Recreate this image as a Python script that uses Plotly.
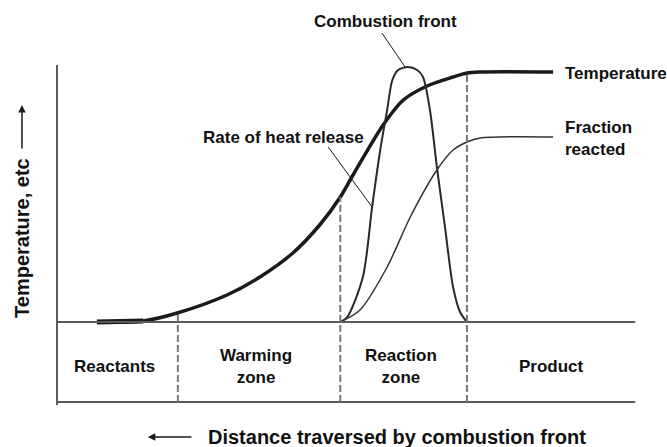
import plotly.graph_objects as go

# schematic curves, x = distance (0-100), y = relative magnitude (0-1)
temp_x = [6.9, 14.9, 20.8, 29.4, 35.1, 40.8, 45.5, 49.0, 51.2, 56.4, 59.9, 64.0, 68.5, 70.9, 73.2, 85.8]
temp_y = [0.0, 0.004, 0.036, 0.108, 0.18, 0.276, 0.39, 0.5, 0.588, 0.788, 0.888, 0.944, 0.98, 0.996, 1.0, 1.0]

heat_x = [49.0, 50.2, 52.9, 54.5, 55.9, 57.1, 58.0, 59.0, 60.7, 62.3, 63.3, 64.5, 65.7, 67.1, 68.5, 69.7, 70.9]
heat_y = [0.0, 0.02, 0.18, 0.46, 0.688, 0.848, 0.968, 1.008, 1.02, 1.008, 0.98, 0.848, 0.62, 0.38, 0.14, 0.04, 0.0]

frac_x = [49.0, 52.4, 57.1, 61.1, 65.7, 68.5, 70.9, 73.2, 85.8]
frac_y = [0.0, 0.048, 0.22, 0.42, 0.608, 0.688, 0.72, 0.736, 0.74]

# zone boundaries and where each dashed line starts (on the temperature curve)
zone_edges = [20.9, 49.0, 70.9]
zone_tops = [0.036, 0.5, 1.0]
zone_names = ["Reactants", "Warming<br>zone", "Reaction<br>zone", "Product"]
zone_centers = [9.9, 34.4, 59.5, 85.6]

BOX_BOTTOM = -0.32
FONT = "Liberation Sans, Arial, sans-serif"
INK = "#1a1a1a"
GREY = "#5a5a5a"

fig = go.Figure()

fig.add_trace(go.Scatter(x=temp_x, y=temp_y, mode="lines",
                         line=dict(color=INK, width=3.5, shape="spline", smoothing=0.8),
                         name="Temperature"))
# heavier ink where the temperature curve leaves the baseline
fig.add_trace(go.Scatter(x=temp_x[:2], y=temp_y[:2], mode="lines",
                         line=dict(color=INK, width=5), showlegend=False))
fig.add_trace(go.Scatter(x=heat_x, y=heat_y, mode="lines",
                         line=dict(color="#2a2a2a", width=2, shape="spline", smoothing=0.8),
                         name="Rate of heat release"))
fig.add_trace(go.Scatter(x=frac_x, y=frac_y, mode="lines",
                         line=dict(color="#333333", width=1.5, shape="spline", smoothing=0.8),
                         name="Fraction reacted"))

# frame: left axis, baseline, bottom of zone box
fig.add_shape(type="line", x0=0, x1=0, y0=-0.332, y1=1.028, line=dict(color=GREY, width=2))
fig.add_shape(type="line", x0=0, x1=100, y0=0, y1=0, line=dict(color=GREY, width=2))
fig.add_shape(type="line", x0=0, x1=100, y0=BOX_BOTTOM, y1=BOX_BOTTOM, line=dict(color=GREY, width=2))

for xe, yt in zip(zone_edges, zone_tops):
    fig.add_shape(type="line", x0=xe, x1=xe, y0=BOX_BOTTOM, y1=yt,
                  line=dict(color="#777777", width=2, dash="7px,3px"))

for name, xc in zip(zone_names, zone_centers):
    fig.add_annotation(x=xc, y=-0.178, text=f"<b>{name}</b>", showarrow=False,
                       font=dict(size=17, color="#111"))

# curve labels
fig.add_annotation(x=87.5, y=0.996, text="<b>Temperature</b>", xanchor="left",
                   showarrow=False, font=dict(size=17, color="#111"))
fig.add_annotation(x=87.5, y=0.734, text="<b>Fraction<br>reacted</b>", xanchor="left",
                   align="left", showarrow=False, font=dict(size=17, color="#111"))
fig.add_annotation(x=39.1, y=0.74, text="<b>Rate of heat release</b>",
                   showarrow=False, font=dict(size=17, color="#111"))
fig.add_annotation(x=56.8, y=1.204, text="<b>Combustion front</b>",
                   showarrow=False, font=dict(size=17, color="#111"))

# leader lines
fig.add_shape(type="line", x0=56.2, y0=1.156, x1=60.2, y1=1.02, line=dict(color=INK, width=1))
fig.add_shape(type="line", x0=46.9, y0=0.70, x1=54.5, y1=0.46, line=dict(color=INK, width=1))

# axis titles with arrows
fig.add_annotation(x=-6.06, y=0.336, text="<b>Temperature, etc</b>", textangle=-90,
                   showarrow=False, font=dict(size=20, color="#111"))
fig.add_annotation(x=-6.06, y=0.868, ax=-6.06, ay=0.688, xref="x", yref="y",
                   axref="x", ayref="y", text="", showarrow=True,
                   arrowhead=2, arrowsize=1, arrowwidth=1.5, arrowcolor=INK)
fig.add_annotation(x=25.8, y=-0.46, text="<b>Distance traversed by combustion front</b>",
                   xanchor="left", showarrow=False, font=dict(size=20, color="#111"))
fig.add_annotation(x=15.7, y=-0.46, ax=23.5, ay=-0.46, xref="x", yref="y",
                   axref="x", ayref="y", text="", showarrow=True,
                   arrowhead=2, arrowsize=1, arrowwidth=1.5, arrowcolor=INK)

fig.update_layout(
    width=667, height=447,
    margin=dict(l=0, r=0, t=0, b=0),
    paper_bgcolor="white", plot_bgcolor="white",
    showlegend=False,
    font=dict(family=FONT),
    xaxis=dict(range=[-9.86, 105.5], visible=False, fixedrange=True),
    yaxis=dict(range=[-0.5, 1.288], visible=False, fixedrange=True),
)

# page body has a default 8px margin; drop it so the figure fills the window
fig.write_html("out.html", config={"displayModeBar": False},
               post_script="document.body.style.margin='0';document.body.style.overflow='hidden';")
